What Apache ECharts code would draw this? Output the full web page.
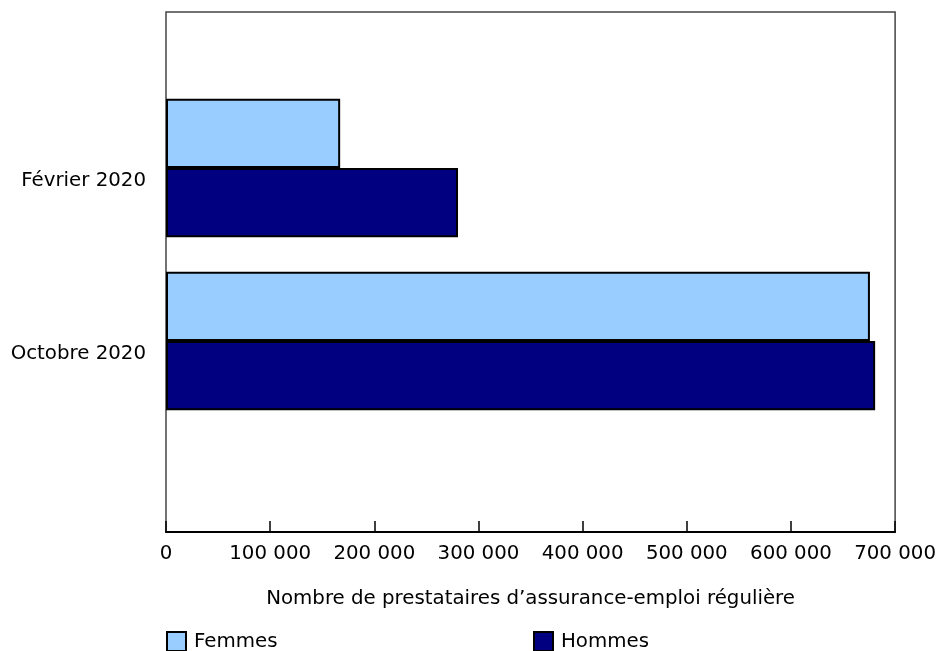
<!DOCTYPE html>
<html>
<head>
<meta charset="utf-8">
<script src="https://cdn.jsdelivr.net/npm/echarts@6/dist/echarts.min.js"></script>
<style>html,body{margin:0;padding:0;background:#fff}#c{width:939px;height:651px}</style>
</head>
<body>
<div id="c"></div>
<script>
const categories = ['Février 2020', 'Octobre 2020'];
const femmes = [167000, 675000];
const hommes = [280000, 680000];
const xTicks = { min: 0, max: 700000, interval: 100000 };
const axisTitle = 'Nombre de prestataires d\u2019assurance-emploi régulière';
const seriesNames = ['Femmes', 'Hommes'];

const FONT = '"DejaVu Sans", Verdana, sans-serif';
const FS = 19.8;
const fmt = v => String(v).replace(/\B(?=(\d{3})+(?!\d))/g, ' ');

const chart = echarts.init(document.getElementById('c'), null, { renderer: 'canvas' });
chart.setOption({
  animation: false,
  textStyle: { fontFamily: FONT },
  grid: [
    { left: 166, right: 43, top: 12, bottom: 119, show: true, borderColor: '#444', borderWidth: 1.5, backgroundColor: 'transparent' },
    { left: 166, right: 43, top: 81.5, height: 346 }
  ],
  legend: [
    { data: [seriesNames[0]], left: 166, top: 631, padding: 0, icon: 'rect', itemWidth: 19, itemHeight: 19, itemGap: 10,
      textStyle: { fontSize: FS, color: '#000', fontFamily: FONT, padding: [0, 0, 0, 3] } },
    { data: [seriesNames[1]], left: 533, top: 631, padding: 0, icon: 'rect', itemWidth: 19, itemHeight: 19, itemGap: 10,
      textStyle: { fontSize: FS, color: '#000', fontFamily: FONT, padding: [0, 0, 0, 3] } }
  ],
  xAxis: [
    { gridIndex: 0, type: 'value', min: xTicks.min, max: xTicks.max, interval: xTicks.interval,
      axisLine: { show: true, onZero: false, lineStyle: { color: '#000', width: 2 } },
      axisTick: { show: true, inside: true, length: 11, lineStyle: { color: '#000', width: 1.5 } },
      axisLabel: { fontSize: FS, color: '#000', margin: 12, formatter: fmt, fontFamily: FONT },
      splitLine: { show: false },
      name: axisTitle, nameLocation: 'middle', nameGap: 57,
      nameTextStyle: { fontSize: FS, color: '#000', fontFamily: FONT } },
    { gridIndex: 1, type: 'value', min: xTicks.min, max: xTicks.max, interval: xTicks.interval, show: false }
  ],
  yAxis: [
    { gridIndex: 0, type: 'value', show: false },
    { gridIndex: 1, type: 'category', data: categories, inverse: true,
      axisLine: { show: false }, axisTick: { show: false },
      axisLabel: { fontSize: FS, color: '#000', margin: 20, verticalAlign: 'top', padding: [3, 0, 0, 0], fontFamily: FONT } }
  ],
  series: [
    { name: seriesNames[0], type: 'bar', xAxisIndex: 1, yAxisIndex: 1, data: femmes,
      barGap: '0%', barCategoryGap: '20%',
      itemStyle: { color: '#99CCFF', borderColor: '#000', borderWidth: 2 } },
    { name: seriesNames[1], type: 'bar', xAxisIndex: 1, yAxisIndex: 1, data: hommes,
      barGap: '0%', barCategoryGap: '20%',
      itemStyle: { color: '#000080', borderColor: '#000', borderWidth: 2 } }
  ]
});
</script>
</body>
</html>
